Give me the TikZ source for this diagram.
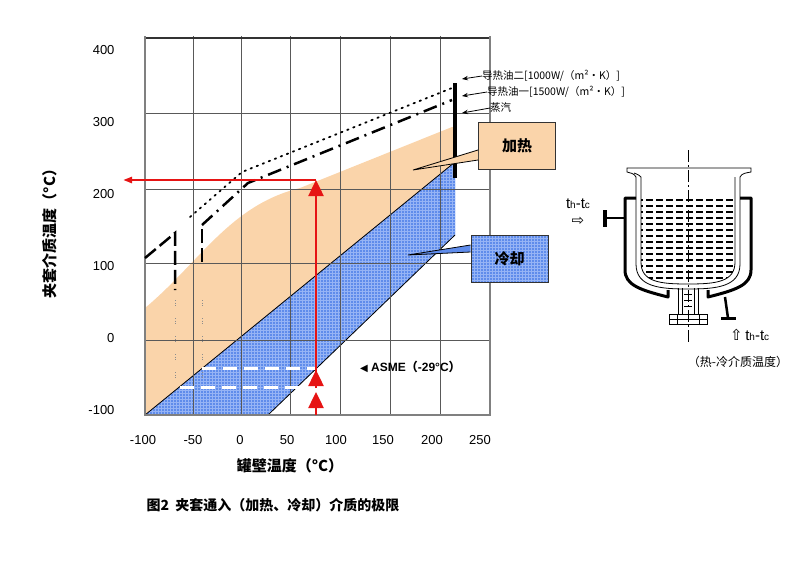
\documentclass[tikz,border=0pt]{standalone}
\usepackage{fontspec}
\setmainfont{Liberation Sans}
\newfontfamily\cjk{Noto Sans CJK SC}
\newfontfamily\djv{DejaVu Sans}
\usetikzlibrary{arrows.meta}
\definecolor{peach}{RGB}{250,212,170}
\definecolor{bluef}{RGB}{95,140,235}
\definecolor{bluel}{RGB}{150,180,245}
\definecolor{redar}{RGB}{230,20,20}
\tikzset{
 gridl/.style={draw=black!65,line width=1pt},
 tick/.style={font=\fontsize{13}{13}\selectfont},
 leg/.style={font=\cjk\fontsize{10.5}{11}\selectfont,anchor=west,inner sep=0pt},
 callbox/.style={draw=black!80,line width=1pt,minimum width=77pt,minimum height=47pt,font=\cjk\bfseries\fontsize{15}{15}\selectfont},
 jacket/.style={line width=3pt,line join=round},
 thin/.style={line width=0.8pt},
 redarrow/.style={draw=redar,line width=2.5pt,-{Triangle[length=16pt,width=15pt]}},
}
\begin{document}
\begin{tikzpicture}[x=1pt,y=-1pt]
\useasboundingbox (0,0) rectangle (800,574);
% orange region
\fill[peach] (145,308) .. controls (200,262) and (230,205) .. (300,188) -- (452,127) -- (455,127) -- (455,162) -- (145,415) -- cycle;
% blue region
\begin{scope}
\clip (145,415) -- (455,162) -- (455,235) -- (268,415) -- cycle;
\fill[bluef] (140,150) rectangle (460,420);
\foreach \i in {0,3,...,320} {\draw[bluel,line width=0.4pt] (140+\i,150) -- (140+\i,420);}
\foreach \i in {0,3,...,270} {\draw[bluel,line width=0.4pt] (140,150+\i) -- (460,150+\i);}
\end{scope}
\draw[black,line width=0.8pt] (145,415) -- (455,162);
\draw[black,line width=0.8pt] (455,235) -- (268,415);
% grid
\foreach \x in {193,241,290,340,390,440} {\draw[gridl] (\x,36) -- (\x,415);}
\foreach \y in {113,189,263,340} {\draw[gridl] (145,\y) -- (490,\y);}
\draw[black!80,line width=1.6pt] (145,38) -- (490,38);
\draw[black!50,line width=1.6pt] (145,36) -- (145,415) -- (490,415) -- (490,36);
% curves
\draw[line width=1.8pt,dash pattern=on 1.5pt off 5pt,line cap=round] (190,217) -- (242,172) -- (452,88);
\draw[line width=2.5pt,dash pattern=on 14pt off 6pt on 2pt off 6pt] (202,225) -- (248,183) -- (452,100);
\draw[line width=2.5pt,dash pattern=on 14pt off 5pt] (202,262) -- (202,225);
\draw[line width=2.5pt,dash pattern=on 14pt off 5pt] (145,258) -- (175,233) -- (175,290);
\foreach \y in {300,318,336,354,372} {\draw[black!45,line width=1pt,dash pattern=on 1pt off 1.5pt] (175,\y) -- (175,\y+6) (202,\y) -- (202,\y+6);}
% white dashed
\draw[white,line width=3pt,dash pattern=on 14pt off 7pt] (202,368) -- (316,368);
\draw[white,line width=3pt,dash pattern=on 14pt off 7pt] (180,387) -- (300,387);
% red arrows
\coordinate (rb) at (316,372);
\coordinate (rt) at (316,180);
\coordinate (rl) at (123,180);
\draw[redarrow] (rb) -- (rt);
\draw[draw=redar,line width=2.5pt,-{Triangle[length=9pt,width=6pt]}] (rt) -- (rl);
\draw[redarrow] (316,388) -- (316,370);
\draw[redarrow] (316,415) -- (316,392);
% black bar
\draw[line width=3.5pt] (455,83) -- (455,178);
% legend
\node[leg] (l1) at (482,76) {导热油二[1000W/（m²·K）]};
\node[leg] (l2) at (487,92) {导热油一[1500W/（m²·K）]};
\node[leg] (l3) at (490,108) {蒸汽};
\draw[-{Stealth[length=6pt]},line width=0.8pt] (l1.west) -- (462,79);
\draw[-{Stealth[length=6pt]},line width=0.8pt] (l2.west) -- (462,96);
\draw[-{Stealth[length=6pt]},line width=0.8pt] (l3.west) -- (462,113);
% callouts
\node[callbox,fill=peach] (hot) at (517,146) {加热};
\draw[line width=0.8pt,fill=peach] (hot.west |- 0,150) -- (413,170) -- (hot.west |- 0,160);
\begin{scope}
\clip (471,235) rectangle (548,282);
\fill[bluef] (471,235) rectangle (548,282);
\foreach \i in {0,3,...,80} {\draw[bluel,line width=0.4pt] (471+\i,235) -- (471+\i,282);}
\foreach \i in {0,3,...,48} {\draw[bluel,line width=0.4pt] (471,235+\i) -- (548,235+\i);}
\end{scope}
\node[callbox,minimum width=77pt] (cold) at (509.5,258.5) {冷却};
\draw[line width=0.8pt,fill=bluef] (cold.west |- 0,245) -- (408,255) -- (cold.west |- 0,252);
% ASME
\node[font=\bfseries\fontsize{12}{12}\selectfont,anchor=west,inner sep=0pt] (asme) at (360,367) {{\djv\fontsize{10}{10}\selectfont ◀} ASME{\cjk（}-29°C{\cjk）}};
% tick labels
\foreach \v/\y in {400/50,300/122,200/194,100/266,-100/410} {\node[tick,anchor=east] at (118,\y) {\v};}
\node[tick,anchor=east] at (118,338) {0};
\foreach \v/\x in {-100/143,-50/193,0/240,50/287,100/336,150/383,200/432,250/480} {\node[tick] at (\x,440) {\v};}
\node[font=\cjk\bfseries\fontsize{15}{15}\selectfont,rotate=90] (yt) at (50,230) {夹套介质温度（°C）};
\node[font=\cjk\bfseries\fontsize{15}{15}\selectfont] (xt) at (290,466) {罐壁温度（°C）};
\node[font=\cjk\bfseries\fontsize{14}{14}\selectfont,anchor=west] (cap) at (143,505) {图2\ \ 夹套通入（加热、冷却）介质的极限};
% ===== vessel =====
\begin{scope}
\clip (641,177) -- (641,262) .. controls (641,282) and (660,284) .. (688,284) .. controls (716,284) and (735,282) .. (735,262) -- (735,177) -- cycle;
\foreach \y in {200,206,...,280} {\draw[line width=1.2pt,dash pattern=on 7pt off 3pt] (636,\y) -- (740,\y);}
\end{scope}
\draw[thin] (636,177) -- (636,264) .. controls (636,287) and (660,289) .. (688,289) .. controls (716,289) and (740,287) .. (740,264) -- (740,177);
\draw[thin] (641,177) -- (641,262) .. controls (641,282) and (660,284) .. (688,284) .. controls (716,284) and (735,282) .. (735,262) -- (735,177);
\draw[thin] (636,177) .. controls (634,173) and (630,173) .. (627,172) -- (627,168) -- (751,168) -- (751,172) .. controls (746,173) and (742,173) .. (740,177);
\draw[thin] (641,177) .. controls (638,174) and (636,174) .. (634,173);
% jacket
\draw[jacket] (636,198) -- (625,198) -- (625,270) .. controls (625,285) and (640,290) .. (668,297) -- (668,290);
\draw[jacket] (740,198) -- (751,198) -- (751,270) .. controls (751,285) and (736,290) .. (708,297) -- (708,290);
% nozzles
\draw[line width=2.5pt] (625,218) -- (605,218);
\draw[line width=3.5pt] (605,210) -- (605,227);
\draw[line width=2.5pt] (725,297) -- (728,318);
\draw[line width=3pt] (721,318) -- (736,318);
% bottom outlet
\draw[thin] (678,288) -- (678,314) (698,288) -- (698,314) (682,288) -- (682,314) (694,288) -- (694,314);
\foreach \y in {294,300,306} {\draw[thin] (684,\y) -- (692,\y);}
\draw[thin] (669,314) rectangle (707,319) (669,319) rectangle (707,324);
\draw[thin] (677,314) -- (677,324) (699,314) -- (699,324);
\draw[thin,dash pattern=on 12pt off 3pt on 2pt off 3pt] (688,150) -- (688,342);
% labels
\node[font=\fontsize{15}{15}\selectfont,inner sep=0pt] (tl) at (578,204) {t{\fontsize{10}{10}\selectfont h}-t{\fontsize{10}{10}\selectfont c}};
\node[font=\djv\fontsize{15}{15}\selectfont,inner sep=0pt] (al) at (578,221) {⇨};
\node[font=\fontsize{15}{15}\selectfont,inner sep=0pt,anchor=west] (tr) at (730,335) {{\djv\fontsize{15}{15}\selectfont ⇧}\,t{\fontsize{10}{10}\selectfont h}-t{\fontsize{10}{10}\selectfont c}};
\node[font=\cjk\fontsize{12}{12}\selectfont,inner sep=0pt] (nl) at (738,362) {（热-冷介质温度）};
\end{tikzpicture}
\end{document}
